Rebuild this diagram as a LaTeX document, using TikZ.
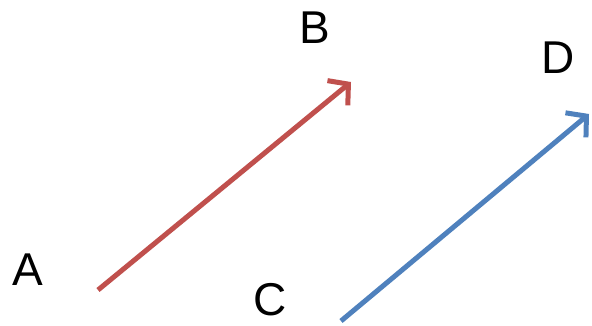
\documentclass[tikz,border=0pt]{standalone}
\usepackage{fontspec}
\setmainfont{Liberation Sans}
\usetikzlibrary{arrows.meta}
\definecolor{vecred}{HTML}{C0504D}
\definecolor{vecblue}{HTML}{4F81BD}
\tikzset{
  lbl/.style={font=\fontsize{46}{55}\selectfont, inner sep=0pt},
  vec/.style={line width=5pt, -{Straight Barb[length=14pt, width=32pt, line width=5pt]}}}
\begin{document}
\begin{tikzpicture}[x=1pt, y=-1pt]
  \useasboundingbox (0,0) rectangle (592,326);
  \node[lbl] (A) at (28,270) {A};
  \node[lbl] (B) at (315,28) {B};
  \node[lbl] (C) at (270,300) {C};
  \node[lbl] (D) at (558,58) {D};
  \coordinate (a0) at (98,290);  \coordinate (b0) at (351,82);
  \coordinate (c0) at (341,321); \coordinate (d0) at (589,114);
  \draw[vec, vecred] (a0) -- (b0);
  \draw[vec, vecblue] (c0) -- (d0);
\end{tikzpicture}
\end{document}
